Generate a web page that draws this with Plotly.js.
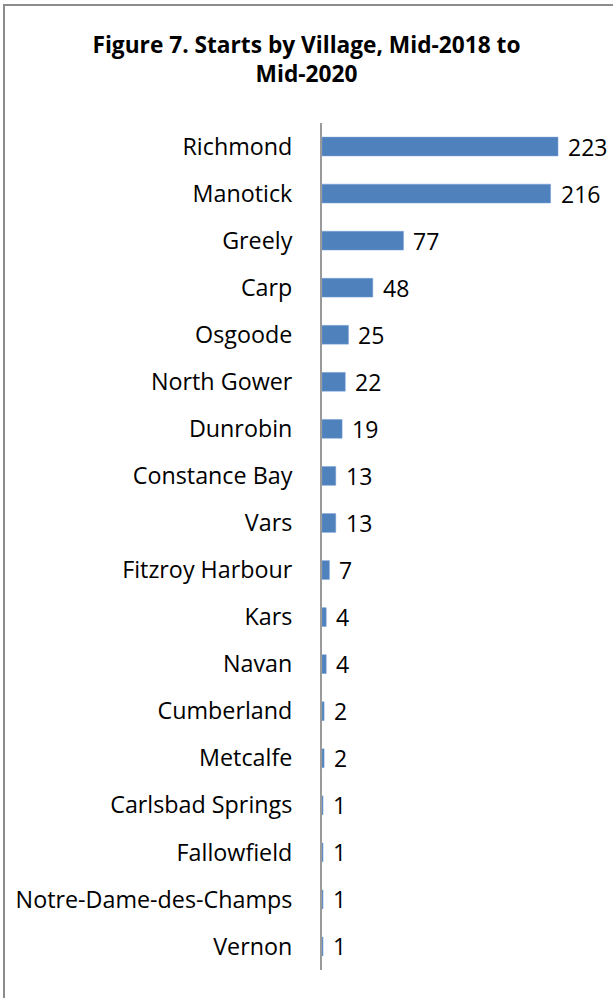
<!DOCTYPE html>
<html>
<head>
<meta charset="utf-8">
<script src="https://cdn.plot.ly/plotly-3.0.1.min.js"></script>
<style>
html,body{margin:0;padding:0;background:#fff;}
#wrap{position:relative;width:613px;height:998px;overflow:hidden;}
#chart{position:absolute;left:0;top:0;width:613px;height:998px;}
#frame{position:absolute;left:3px;top:4px;width:700px;height:1100px;border-left:2px solid #8c8c8c;border-top:2px solid #8c8c8c;pointer-events:none;}
</style>
</head>
<body>
<div id="wrap"><div id="chart"></div><div id="frame"></div></div>
<script>
const villages = ["Richmond","Manotick","Greely","Carp","Osgoode","North Gower","Dunrobin","Constance Bay","Vars","Fitzroy Harbour","Kars","Navan","Cumberland","Metcalfe","Carlsbad Springs","Fallowfield","Notre-Dame-des-Champs","Vernon"];
const starts = [223,216,77,48,25,22,19,13,13,7,4,4,2,2,1,1,1,1];
const titleText = "<b>Figure 7. Starts by Village, Mid-2018 to<br>Mid-2020</b>";

const FONT = "Open Sans, Noto Sans, sans-serif";
const plotW = 280;
const xMax = 223 * plotW / 236;

const valueLabels = starts.map((v, i) => ({
  x: v, y: villages[i], xref: "x", yref: "y",
  text: String(v), showarrow: false,
  xanchor: "left", yanchor: "middle", xshift: 8,
  font: {family: FONT, size: 23, color: "#000"}
}));

Plotly.newPlot("chart", [{
  type: "bar",
  orientation: "h",
  y: villages,
  x: starts,
  marker: {color: "#4f81bd", line: {color: "#7aa3d6", width: 0.5}},
  hoverinfo: "none"
}], {
  width: 613, height: 998,
  margin: {l: 322, r: 613 - 322 - plotW, t: 123, b: 28, pad: 0},
  paper_bgcolor: "#fff", plot_bgcolor: "#fff",
  bargap: 0.6,
  showlegend: false,
  annotations: valueLabels,
  title: {text: titleText, font: {family: FONT, size: 22.7, color: "#000"}, x: 0.5, xanchor: "center", y: 0.947, yanchor: "top"},
  xaxis: {range: [0, xMax], visible: false, fixedrange: true},
  yaxis: {
    type: "category", autorange: "reversed",
    showline: true, linecolor: "#9a9a9a", linewidth: 2,
    showgrid: false, zeroline: false, ticks: "",
    ticklabelstandoff: 23,
    tickfont: {family: FONT, size: 23.3, color: "#000"},
    fixedrange: true
  },
  font: {family: FONT}
}, {displayModeBar: false, staticPlot: true});
</script>
</body>
</html>
